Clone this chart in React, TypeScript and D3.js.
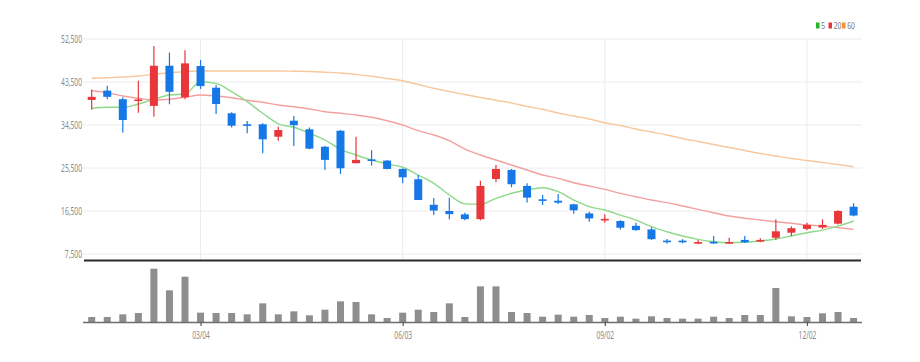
import React, { useEffect, useRef } from 'react';
import * as d3 from 'd3';

// weekly candles, 2019
const dates = [
  '2019-01-14', '2019-01-21', '2019-01-28', '2019-02-04', '2019-02-11', '2019-02-18', '2019-02-25',
  '2019-03-04', '2019-03-11', '2019-03-18', '2019-03-25', '2019-04-01', '2019-04-08', '2019-04-15',
  '2019-04-22', '2019-04-29', '2019-05-06', '2019-05-13', '2019-05-20', '2019-05-27', '2019-06-03',
  '2019-06-10', '2019-06-17', '2019-06-24', '2019-07-01', '2019-07-08', '2019-07-15', '2019-07-22',
  '2019-07-29', '2019-08-05', '2019-08-12', '2019-08-19', '2019-08-26', '2019-09-02', '2019-09-09',
  '2019-09-16', '2019-09-23', '2019-09-30', '2019-10-07', '2019-10-14', '2019-10-21', '2019-10-28',
  '2019-11-04', '2019-11-11', '2019-11-18', '2019-11-25', '2019-12-02', '2019-12-09', '2019-12-16',
  '2019-12-23',
];

const opens = [39750, 41700, 39900, 39600, 38500, 46900, 40300, 46850, 42300, 36950, 34650, 34650, 32050, 35400, 33600, 29950, 33300, 26500, 27300, 27050, 25300, 23150, 17800, 16500, 15800, 14800, 23200, 25100, 21750, 18950, 18650, 17900, 16000, 14700, 14400, 13400, 12650, 10300, 10300, 9750, 10050, 9750, 10450, 10100, 10900, 11950, 12750, 13050, 13850, 17400];
const highs = [41950, 42700, 40300, 43750, 51050, 49650, 50150, 48100, 42850, 37150, 35350, 34850, 34150, 36400, 34000, 30100, 33450, 32050, 29250, 27200, 25450, 24050, 19200, 19250, 16150, 22850, 26150, 25300, 22300, 19850, 20050, 18000, 16350, 15800, 14550, 14050, 13100, 10650, 10600, 10450, 11250, 10900, 11250, 10800, 14750, 13300, 14050, 14750, 16650, 18100];
const lows = [37700, 39900, 32900, 37050, 36250, 38850, 39900, 42050, 36800, 34000, 32750, 28600, 31200, 30100, 29400, 25100, 24250, 26500, 26000, 25250, 22300, 18800, 15650, 14750, 14550, 14550, 22500, 21450, 18300, 17750, 17950, 15900, 14250, 14050, 12650, 12350, 10450, 9650, 9750, 9550, 9600, 9600, 9800, 9950, 10500, 11250, 12450, 12750, 13700, 15400];
const closes = [40400, 40400, 35550, 39850, 46900, 41450, 47400, 42650, 38900, 34350, 34450, 31500, 33450, 34450, 29550, 27200, 25450, 27200, 27100, 25300, 23550, 18800, 16600, 15850, 14800, 21750, 25300, 22100, 19300, 18800, 18250, 16650, 14950, 14850, 13000, 12500, 10600, 10200, 9950, 10000, 9750, 10000, 9950, 10450, 12250, 12900, 13600, 13600, 16500, 15550];
const volumes = [150000, 150000, 230000, 270000, 1600000, 950000, 1360000, 280000, 270000, 270000, 230000, 560000, 230000, 320000, 200000, 370000, 620000, 600000, 230000, 120000, 280000, 370000, 300000, 560000, 150000, 1070000, 1070000, 300000, 270000, 160000, 220000, 160000, 210000, 120000, 160000, 100000, 170000, 120000, 100000, 100000, 160000, 120000, 210000, 210000, 1020000, 170000, 150000, 260000, 300000, 120000];

const ma5 = [38000, 38200, 38200, 38900, 39880, 40780, 40990, 43560, 43220, 41470, 39380, 36950, 34750, 34020, 32760, 31360, 29410, 28220, 27170, 26340, 25650, 24030, 22300, 19850, 18000, 17900, 19160, 20210, 20900, 21380, 20540, 18800, 17400, 16700, 15650, 14600, 13210, 12160, 11270, 10570, 10070, 9860, 9950, 10220, 10640, 11270, 11960, 12510, 13350, 14400];
const ma20 = [41680, 41260, 40570, 40090, 39730, 39880, 40300, 40780, 40570, 40210, 39670, 39250, 38690, 38330, 37850, 37280, 36950, 36590, 36110, 35400, 34500, 33310, 32410, 31210, 29450, 28220, 27170, 26130, 25080, 24030, 23330, 22420, 21730, 21040, 20200, 19490, 18800, 18240, 17550, 16850, 16140, 15450, 14970, 14620, 14260, 13930, 13570, 13360, 13010, 12660];
const ma60 = [44270, 44400, 44550, 44760, 45110, 45450, 45660, 45800, 45800, 45800, 45800, 45800, 45800, 45750, 45700, 45550, 45380, 45070, 44710, 44230, 43770, 42980, 42180, 41510, 40880, 40260, 39670, 39100, 38370, 37790, 37010, 36380, 35760, 34980, 34400, 33660, 33030, 32410, 31670, 31040, 30420, 29790, 29160, 28530, 28010, 27490, 27070, 26650, 26230, 25770];

const priceTicks = [7500, 16500, 25500, 34500, 43500, 52500];
const monthTicks = ['2019-03-04', '2019-06-03', '2019-09-02', '2019-12-02'];
const legendItems = ['5', '20', '60'];

const UP = '#e8363a';
const DOWN = '#1677e6';
const MA_COLORS = ['#8ed98a', '#f3a0a0', '#f8c89c'];
const LEGEND_COLORS = ['#27b327', '#e8363a', '#f5922f'];

const App: React.FC = () => {
  const ref = useRef<SVGSVGElement>(null);

  useEffect(() => {
    if (!ref.current) return;
    const svg = d3.select(ref.current);
    svg.selectAll('*').remove();

    const left = 83, right = 862;
    const x = d3.scalePoint<string>().domain(dates).range([91.7, 853.6]);
    const y = d3.scaleLinear().domain([7500, 52500]).range([254, 39]);
    const yv = d3.scaleLinear().domain([0, 1680000]).range([322, 266]);
    const fmt = d3.format(',');
    const font = "'Noto Sans', sans-serif";

    // grid
    const grid = svg.append('g');
    grid.selectAll('line.h').data(priceTicks).join('line')
      .attr('x1', left).attr('x2', right)
      .attr('y1', d => y(d)).attr('y2', d => y(d))
      .attr('stroke', '#ececec').attr('stroke-width', 1);
    grid.selectAll('line.v').data(monthTicks).join('line')
      .attr('x1', d => x(d)!).attr('x2', d => x(d)!)
      .attr('y1', y(52500)).attr('y2', 260)
      .attr('stroke', '#ececec').attr('stroke-width', 1);

    // y labels
    svg.append('g').selectAll('text').data(priceTicks).join('text')
      .attr('x', 82).attr('y', d => y(d)).attr('dy', '0.35em')
      .attr('text-anchor', 'end')
      .attr('font-family', font).attr('font-size', 10.5).attr('fill', '#8a8a8a')
      .attr('textLength', d => fmt(d).replace(/,/g, '').length * 3.75 + 2.2)
      .attr('lengthAdjust', 'spacingAndGlyphs')
      .text(d => fmt(d));

    // moving averages
    const line = d3.line<number>()
      .x((_, i) => x(dates[i])!)
      .y(d => y(d))
      .curve(d3.curveMonotoneX);
    [ma60, ma20, ma5].forEach((s, k) => {
      svg.append('path').datum(s)
        .attr('fill', 'none')
        .attr('stroke', MA_COLORS[2 - k])
        .attr('stroke-width', 1.4)
        .attr('d', line);
    });

    // candles
    const cw = 8;
    const candles = svg.append('g').selectAll('g').data(dates).join('g');
    candles.append('line')
      .attr('x1', d => x(d)!).attr('x2', d => x(d)!)
      .attr('y1', (_, i) => y(highs[i])).attr('y2', (_, i) => y(lows[i]))
      .attr('stroke', (_, i) => closes[i] >= opens[i] ? UP : DOWN)
      .attr('stroke-width', 1.2);
    candles.append('rect')
      .attr('x', d => x(d)! - cw / 2)
      .attr('width', cw)
      .attr('y', (_, i) => y(Math.max(opens[i], closes[i])))
      .attr('height', (_, i) => Math.max(1.6, Math.abs(y(opens[i]) - y(closes[i]))))
      .attr('fill', (_, i) => closes[i] >= opens[i] ? UP : DOWN);

    // separator
    svg.append('line')
      .attr('x1', 84).attr('x2', 861).attr('y1', 260.5).attr('y2', 260.5)
      .attr('stroke', '#2a2a2a').attr('stroke-width', 2);

    // volume
    const vw = 7;
    svg.append('g').selectAll('rect').data(volumes).join('rect')
      .attr('x', (_, i) => x(dates[i])! - vw / 2)
      .attr('width', vw)
      .attr('y', d => yv(d))
      .attr('height', d => yv(0) - yv(d))
      .attr('fill', '#8e8e8e');

    const xAxis = svg.append('g').attr('transform', `translate(0,${yv(0)})`)
      .call(d3.axisBottom(x).tickValues(monthTicks).tickSize(4).tickPadding(6)
        .tickFormat(d => d3.timeFormat('%m/%d')(d3.timeParse('%Y-%m-%d')(d)!)));
    xAxis.select('.domain').attr('d', `M${left},0.5H${right}`).attr('stroke', '#6e6e6e').attr('stroke-width', 1.6);
    xAxis.selectAll('.tick line').attr('stroke', '#555').attr('stroke-width', 1.2);
    xAxis.selectAll('.tick text')
      .attr('font-family', font).attr('font-size', 10.5).attr('fill', '#8a8a8a')
      .attr('textLength', 17.7).attr('lengthAdjust', 'spacingAndGlyphs');

    // legend
    const legend = svg.append('g');
    const lx = [816, 828.5, 842];
    legendItems.forEach((t, k) => {
      legend.append('rect').attr('x', lx[k]).attr('y', 22.5).attr('width', 3.5).attr('height', 6)
        .attr('fill', LEGEND_COLORS[k]);
      legend.append('text').attr('x', lx[k] + 5.2).attr('y', 28.5)
        .attr('font-family', font).attr('font-size', 8.5).attr('fill', '#777')
        .attr('textLength', t.length * 3.9).attr('lengthAdjust', 'spacingAndGlyphs')
        .text(t);
    });
  }, []);

  return (
    <svg ref={ref} width={920} height={362}
      style={{ position: 'absolute', left: 0, top: 0, background: '#fff' }} />
  );
};

export default App;
